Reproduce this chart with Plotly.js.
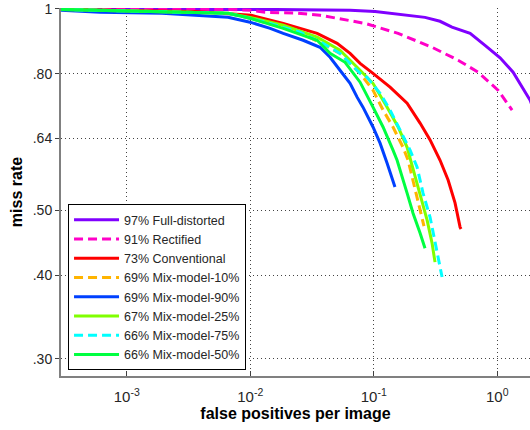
<!DOCTYPE html>
<html>
<head>
<meta charset="utf-8">
<script src="https://cdn.plot.ly/plotly-3.0.1.min.js"></script>
<style>html,body{margin:0;padding:0;background:#fff;}#chart{width:530px;height:430px;}</style>
</head>
<body>
<div id="chart"></div>
<script>
// Legend labels
const names = ["97% Full-distorted", "91% Rectified", "73% Conventional", "69% Mix-model-10%",
               "69% Mix-model-90%", "67% Mix-model-25%", "66% Mix-model-75%", "66% Mix-model-50%"];

// Full-distorted
const fullFppi = [0.00029, 0.0132, 0.0643, 0.1026, 0.26, 0.344, 0.43, 0.603, 0.796, 1.054, 1.343, 1.845, 2.2];
const fullMr   = [0.998, 0.998, 0.995, 0.991, 0.971, 0.958, 0.939, 0.919, 0.882, 0.845, 0.804, 0.730, 0.67];

// Rectified
const rectFppi = [0.00029, 0.00685, 0.00995, 0.0132, 0.0244, 0.0367, 0.046, 0.0851, 0.1574, 0.2965, 0.4819, 0.70, 1.014, 1.318];
const rectMr   = [0.998, 0.998, 0.995, 0.988, 0.985, 0.978, 0.971, 0.951, 0.919, 0.876, 0.838, 0.804, 0.756, 0.706];

// Conventional
const convFppi = [0.00029, 0.00357, 0.0102, 0.0185, 0.0348, 0.0505, 0.0643, 0.0775, 0.0986, 0.1355, 0.1862, 0.2371, 0.2858, 0.3443, 0.3999, 0.455, 0.50, 0.509];
const convMr   = [0.998, 0.991, 0.978, 0.951, 0.919, 0.888, 0.858, 0.829, 0.801, 0.764, 0.723, 0.675, 0.637, 0.594, 0.555, 0.513, 0.472, 0.469];

// Mix-model-10%
const m10Fppi = [0.00029, 0.00357, 0.00661, 0.00995, 0.0253, 0.0533, 0.0775, 0.0986, 0.1189, 0.1432, 0.1726, 0.1897, 0.208, 0.2286, 0.2506, 0.255];
const m10Mr   = [0.998, 0.988, 0.985, 0.968, 0.9225, 0.858, 0.801, 0.756, 0.706, 0.666, 0.621, 0.594, 0.5547, 0.5126, 0.4786, 0.4737];

// Mix-model-90%
const m90Fppi = [0.00029, 0.000608, 0.00193, 0.00357, 0.00661, 0.00995, 0.0145, 0.0185, 0.0268, 0.0367, 0.0443, 0.0533, 0.0643, 0.0733, 0.0818, 0.0986, 0.1125, 0.1283, 0.1485];
const m90Mr   = [0.995, 0.988, 0.985, 0.978, 0.971, 0.955, 0.935, 0.919, 0.8975, 0.876, 0.8465, 0.8096, 0.774, 0.738, 0.713, 0.666, 0.630, 0.588, 0.542];

// Mix-model-25%
const m25Fppi = [0.00029, 0.00357, 0.00661, 0.00995, 0.0185, 0.0348, 0.0533, 0.0733, 0.0986, 0.1283, 0.1574, 0.1862, 0.2042, 0.2371, 0.2704, 0.2965, 0.3133];
const m25Mr   = [0.998, 0.988, 0.985, 0.971, 0.945, 0.907, 0.867, 0.818, 0.774, 0.713, 0.666, 0.621, 0.584, 0.5305, 0.4834, 0.4468, 0.4185];

// Mix-model-75%
const m75Fppi = [0.00029, 0.00357, 0.00661, 0.00995, 0.0145, 0.0253, 0.0388, 0.0533, 0.0775, 0.0883, 0.1125, 0.1355, 0.1633, 0.1968, 0.2244, 0.2506, 0.2858, 0.3133, 0.3319, 0.3573];
const m75Mr   = [0.998, 0.988, 0.985, 0.968, 0.951, 0.9225, 0.888, 0.858, 0.801, 0.790, 0.748, 0.706, 0.659, 0.615, 0.580, 0.5305, 0.4883, 0.4468, 0.4214, 0.3975];

// Mix-model-50%
const m50Fppi = [0.00029, 0.00357, 0.00661, 0.00995, 0.0185, 0.0348, 0.0443, 0.0586, 0.0775, 0.0986, 0.1189, 0.1432, 0.1545, 0.1862, 0.208, 0.2371, 0.26];
const m50Mr   = [0.998, 0.988, 0.985, 0.968, 0.935, 0.8975, 0.858, 0.832, 0.777, 0.713, 0.666, 0.615, 0.594, 0.5305, 0.495, 0.4625, 0.439];

// Ticks
const xTickVals = [0.001, 0.01, 0.1, 1];
const xTickText = ["10<sup>-3</sup>", "10<sup>-2</sup>", "10<sup>-1</sup>", "10<sup>0</sup>"];
const yTickVals = [0.30, 0.40, 0.50, 0.64, 0.80, 1];
const yTickText = [".30", ".40", ".50", ".64", ".80", "1"];

const xs = [fullFppi, rectFppi, convFppi, m10Fppi, m90Fppi, m25Fppi, m75Fppi, m50Fppi];
const ys = [fullMr, rectMr, convMr, m10Mr, m90Mr, m25Mr, m75Mr, m50Mr];
const colors = ["#8000FF", "#FF00C8", "#FF0000", "#FFB400", "#0040FF", "#80FF00", "#00FFFF", "#00FF40"];
const dashes = ["solid", "9px,5px", "solid", "9px,5px", "solid", "solid", "9px,5px", "solid"];

const traces = names.map((n, i) => ({
  x: xs[i], y: ys[i], name: n, type: "scatter", mode: "lines",
  line: {color: colors[i], width: 3, dash: dashes[i]}
}));

const font = "Arial, 'Liberation Sans', sans-serif";
const layout = {
  width: 530, height: 430,
  margin: {l: 61, r: 0, t: 8, b: 54},
  paper_bgcolor: "#fff", plot_bgcolor: "#fff",
  showlegend: true,
  font: {family: font, size: 13, color: "#262626"},
  xaxis: {
    type: "log", range: [-3.532, 0.265],
    tickvals: xTickVals, ticktext: xTickText,
    showgrid: true, gridcolor: "#444", griddash: "1px,3px", gridwidth: 1,
    zeroline: false, showline: true, linecolor: "#808080", linewidth: 2,
    ticks: "inside", ticklen: 5, tickcolor: "#404040",
    ticklabelstandoff: 6,
    tickfont: {size: 15, color: "#262626"},
    title: {text: "false positives per image", font: {size: 16, color: "#000", weight: "bold"}, standoff: 4}
  },
  yaxis: {
    type: "log", range: [-0.5484, 0.0012],
    tickvals: yTickVals, ticktext: yTickText,
    showgrid: true, gridcolor: "#444", griddash: "1px,3px", gridwidth: 1,
    zeroline: false, showline: true, linecolor: "#808080", linewidth: 2,
    ticks: "outside", ticklen: 4, tickcolor: "#404040",
    tickfont: {size: 14, color: "#262626"},
    title: {text: "miss rate", font: {size: 16, color: "#000", weight: "bold"}, standoff: 6}
  },
  legend: {
    x: 0.015, y: 0.016, xanchor: "left", yanchor: "bottom",
    bgcolor: "#fff", bordercolor: "#000", borderwidth: 1,
    font: {size: 12.5, color: "#262626"},
    itemwidth: 45, tracegroupgap: 0
  }
};

Plotly.newPlot("chart", traces, layout, {displayModeBar: false, staticPlot: true});
</script>
</body>
</html>
